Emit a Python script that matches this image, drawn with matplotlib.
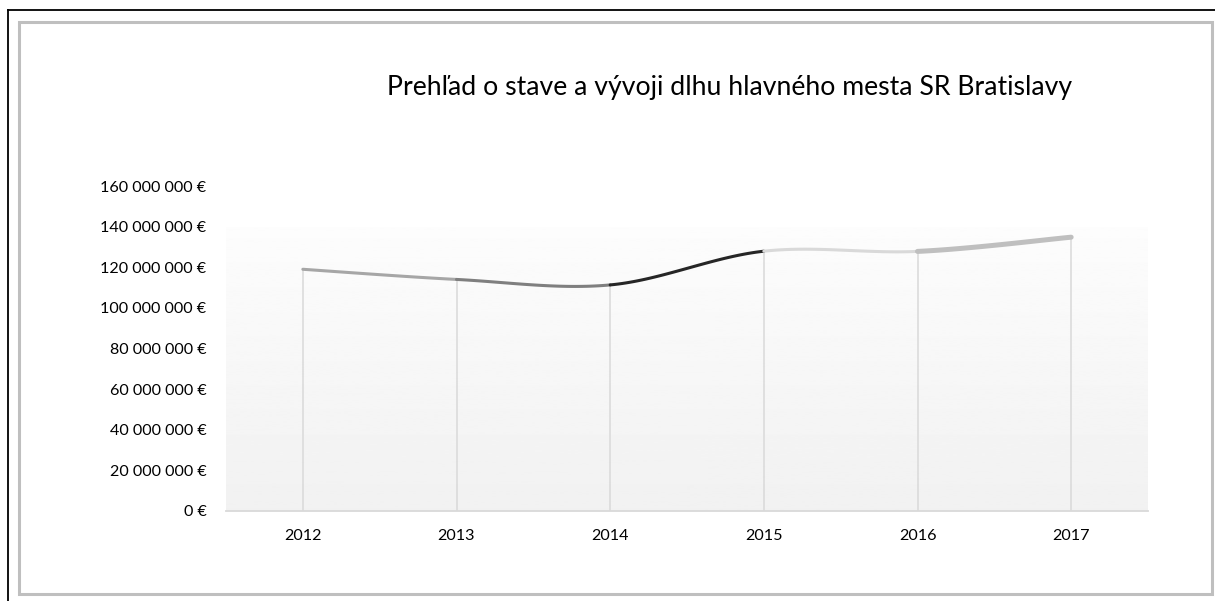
import numpy as np
import matplotlib
matplotlib.use("Agg")
import matplotlib.pyplot as plt
from matplotlib.patches import Rectangle
from matplotlib.lines import Line2D
from matplotlib.ticker import FuncFormatter

# data
years = ["2012", "2013", "2014", "2015", "2016", "2017"]
debt = [119_000_000, 114_000_000, 111_300_000, 127_900_000, 127_800_000, 134_800_000]
seg_colors = ["#a6a6a6", "#7f7f7f", "#262626", "#d9d9d9", "#bfbfbf"]
seg_widths = [2.2, 2.2, 2.2, 2.2, 3.6]
title = "Prehľad o stave a vývoji dlhu hlavného mesta SR Bratislavy"

plt.rcParams["font.family"] = ["Lato", "DejaVu Sans"]

fig = plt.figure(figsize=(12.15, 6.01), dpi=100)
ax = fig.add_axes([226/1215, 1-511/601, (1148-226)/1215, (511-186)/601])

x = np.arange(len(years))
y = np.array(debt, dtype=float)

# gradient plot area (near white top -> light gray bottom)
grad = np.linspace(0.945, 0.99, 256).reshape(-1, 1)
ax.imshow(grad, cmap="gray", vmin=0, vmax=1, origin="lower", aspect="auto",
          extent=[-0.5, len(years)-0.5, 0, 139_500_000], zorder=0)

# drop lines
ax.vlines(x, 0, y, color="#d9d9d9", lw=1.1, zorder=1)

# smoothed line, each segment in its own colour
def seg_curve(i, n=40):
    p0 = np.array([x[max(i-1, 0)], y[max(i-1, 0)]])
    p1 = np.array([x[i], y[i]])
    p2 = np.array([x[i+1], y[i+1]])
    p3 = np.array([x[min(i+2, len(x)-1)], y[min(i+2, len(x)-1)]])
    c1 = p1 + (p2 - p0) / 6
    c2 = p2 - (p3 - p1) / 6
    t = np.linspace(0, 1, n)[:, None]
    pts = (1-t)**3*p1 + 3*(1-t)**2*t*c1 + 3*(1-t)*t**2*c2 + t**3*p2
    return pts[:, 0], pts[:, 1]

for i in range(len(x)-1):
    sx, sy = seg_curve(i)
    ax.plot(sx, sy, color=seg_colors[i], lw=seg_widths[i], solid_capstyle="round", zorder=3)

ax.set_xlim(-0.5, len(years)-0.5)
ax.set_ylim(0, 160_000_000)
ax.set_yticks(np.arange(0, 160_000_001, 20_000_000))
ax.yaxis.set_major_formatter(FuncFormatter(lambda v, p: f"{int(v):,} €".replace(",", " ")))
ax.set_xticks(x)
ax.set_xticklabels(years)
ax.tick_params(axis="both", length=0, labelsize=11.6, colors="#000000")
ax.tick_params(axis="y", pad=14)
ax.tick_params(axis="x", pad=13)
for s in ["top", "right", "left"]:
    ax.spines[s].set_visible(False)
ax.spines["bottom"].set_color("#d9d9d9")
ax.spines["bottom"].set_linewidth(1.3)
ax.set_facecolor("none")

fig.text(730/1215, 1-88/601, title, ha="center", va="center", fontsize=19.2)

# frame lines
fig.add_artist(Line2D([8/1215, 8/1215], [0, 1-10/601], color="black", lw=1.3, transform=fig.transFigure))
fig.add_artist(Line2D([8/1215, 1], [1-10/601, 1-10/601], color="black", lw=1.3, transform=fig.transFigure))
fig.add_artist(Rectangle((18.5/1215, 1-593.5/601), (1211.5-18.5)/1215, (593.5-21.5)/601,
                         transform=fig.transFigure, fill=False, ec="#bfbfbf", lw=2.2))

fig.savefig("out.png", dpi=100)
